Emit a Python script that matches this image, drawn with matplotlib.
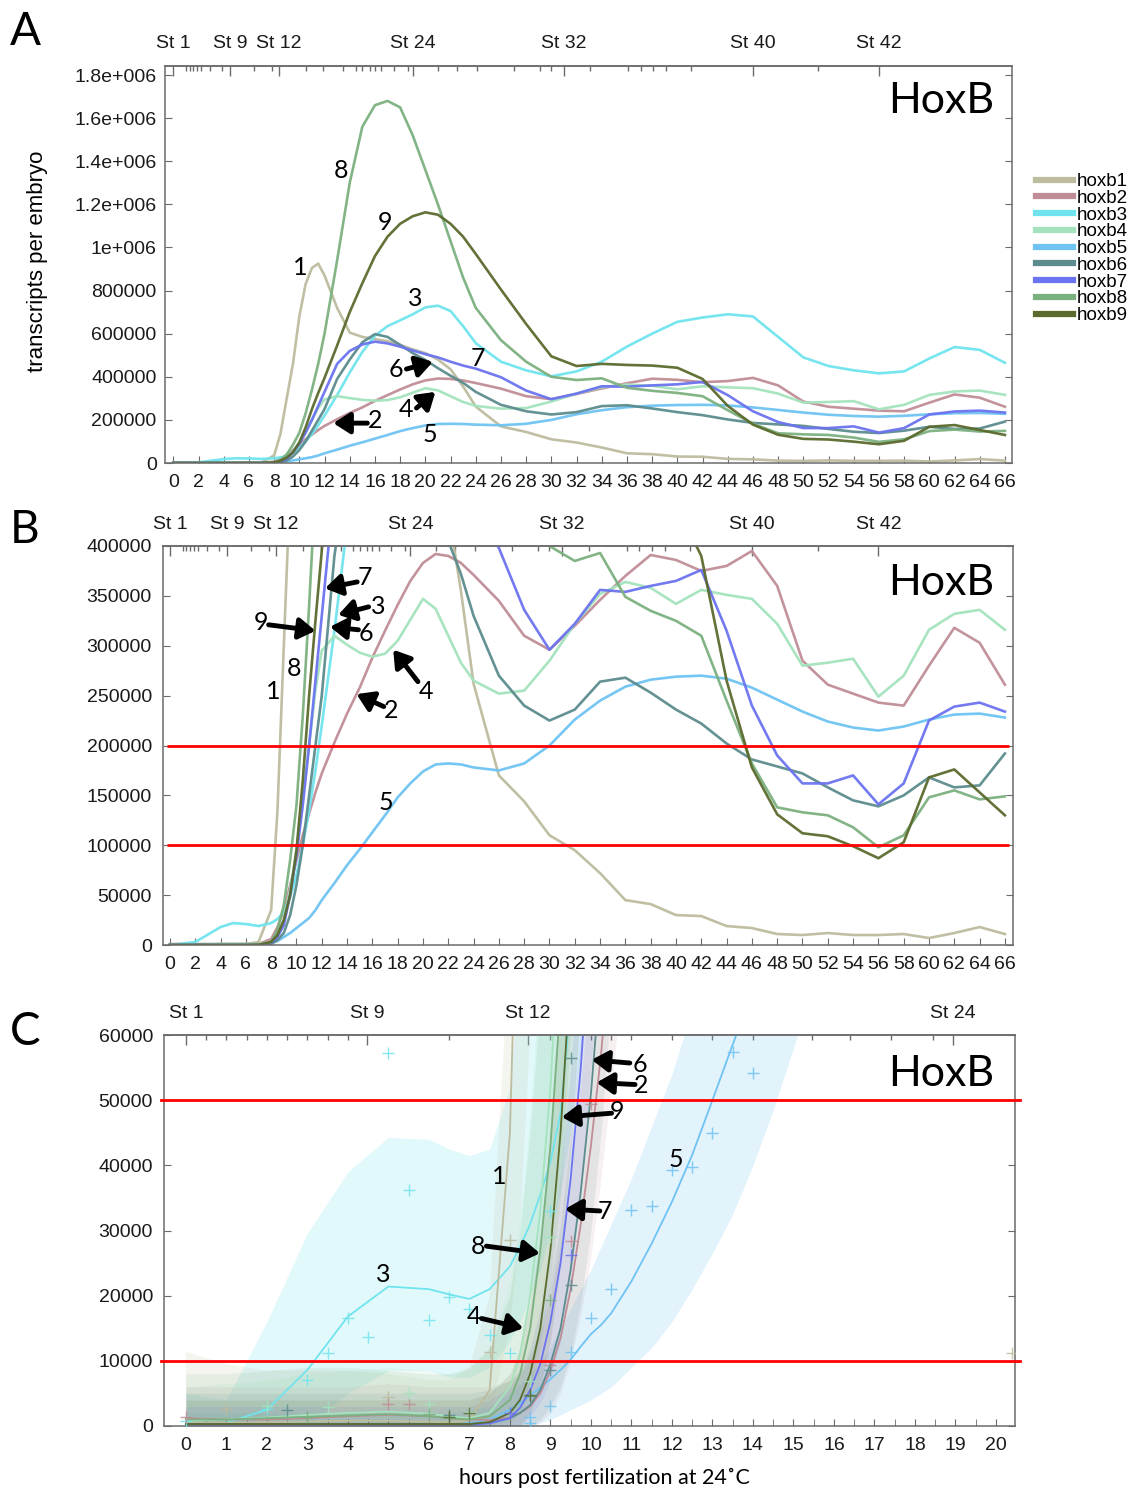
import numpy as np
import matplotlib
matplotlib.use("Agg")
import matplotlib.pyplot as plt
from matplotlib.lines import Line2D

plt.rcParams["font.family"] = ["Liberation Sans", "DejaVu Sans"]
CAL = ["Lato", "DejaVu Sans"]

genes = ["hoxb1", "hoxb2", "hoxb3", "hoxb4", "hoxb5",
         "hoxb6", "hoxb7", "hoxb8", "hoxb9"]
colors = ["#bdbc9e", "#c08d97", "#6fe4ee", "#a4e3bd", "#6ec3f3",
          "#5c8c8d", "#6b73f0", "#7bb07f", "#5b6a2d"]

# ---- panels A and B: hours post fertilization vs transcripts per embryo (x1000)
hours = [0, 2, 4, 5, 6, 7, 8, 8.5, 9, 9.5, 10, 10.5, 11, 11.5,
         12, 13, 14, 15, 16, 17, 18, 19, 20, 21, 22, 23, 24,
         26, 28, 30, 32, 34, 36, 38, 40, 42, 44, 46, 48, 50, 52, 54, 56, 58, 60, 62, 64, 66]
hoxb1 = [0, 0, 1, 1, 1, 3, 35, 135, 300, 462, 680, 830, 905, 925,
         870, 720, 605, 585, 575, 565, 548, 527, 510, 480, 435, 355, 262,
         170, 144, 110, 95, 72, 45, 41, 30, 29, 19, 17, 11, 10, 12, 10, 10, 11, 7, 12, 18, 11]
hoxb2 = [1, 1, 1, 1, 1, 1, 6, 18, 35, 60, 85, 110, 132, 153,
         172, 203, 232, 258, 288, 315, 341, 365, 383, 392, 390, 383, 371,
         345, 310, 296, 320, 346, 370, 391, 386, 375, 380, 395, 360, 285, 261, 252, 243, 240, 280, 318, 303, 261]
hoxb3 = [0, 3, 18, 22, 21, 19, 22, 26, 33, 48, 70, 100, 135, 175,
         220, 315, 420, 515, 590, 635, 662, 690, 722, 730, 705, 635, 556,
         470, 430, 402, 425, 470, 540, 600, 655, 675, 690, 680, 585, 490, 450, 430, 416, 425, 485, 538, 525, 465]
hoxb4 = [0, 0, 1, 1, 1, 1, 3, 10, 25, 55, 95, 148, 200, 255,
         295, 310, 301, 293, 289, 292, 305, 326, 347, 337, 310, 283, 265,
         252, 255, 285, 322, 352, 364, 358, 342, 356, 351, 347, 322, 280, 283, 287, 249, 270, 316, 332, 336, 316]
hoxb5 = [0, 0, 0, 0, 0, 0.3, 2, 4, 8, 12, 17, 22, 27, 35,
         45, 62, 80, 96, 113, 130, 148, 162, 174, 181, 182, 181, 178,
         175, 182, 200, 226, 245, 259, 266, 269, 270, 267, 258, 246, 234, 224, 218, 215, 219, 226, 231, 232, 228]
hoxb6 = [0, 0, 0, 0, 0, 0.2, 1, 5, 12, 30, 60, 100, 150, 200,
         250, 390, 480, 560, 598, 585, 548, 510, 478, 440, 405, 372, 330,
         270, 240, 225, 236, 264, 268, 253, 236, 222, 202, 186, 179, 172, 158, 145, 139, 150, 168, 158, 160, 192]
hoxb7 = [0, 0, 0, 0, 0, 0.2, 2, 8, 20, 50, 90, 140, 200, 265,
         330, 460, 520, 550, 563, 555, 540, 522, 505, 490, 470, 452, 438,
         398, 336, 296, 322, 356, 354, 360, 365, 376, 315, 240, 190, 162, 162, 170, 141, 162, 225, 239, 243, 234]
hoxb8 = [0, 0, 0, 0, 0, 0.3, 3, 15, 40, 85, 140, 230, 340, 460,
         600, 940, 1300, 1560, 1660, 1680, 1650, 1520, 1360, 1200, 1030, 860, 720,
         570, 470, 400, 385, 393, 349, 335, 325, 310, 245, 182, 138, 133, 130, 118, 98, 110, 148, 155, 146, 149]
hoxb9 = [0, 0, 0, 0, 0, 0.2, 3, 10, 25, 50, 95, 165, 250, 325,
         395, 545, 700, 834, 960, 1050, 1110, 1145, 1163, 1152, 1110, 1050, 970,
         805, 645, 495, 450, 460, 455, 452, 442, 390, 265, 178, 131, 112, 109, 99, 87, 103, 168, 176, 153, 130]
series_ab = [hoxb1, hoxb2, hoxb3, hoxb4, hoxb5, hoxb6, hoxb7, hoxb8, hoxb9]

# developmental stages on the top axis (hours)
stage_names = ["St 1", "St 9", "St 12", "St 24", "St 32", "St 40", "St 42"]
stage_hours = [0, 4.5, 8.4, 19.0, 31.0, 46.0, 56.0]
stage_minor = [1.0, 1.3, 1.6, 1.9, 2.2, 2.9, 3.9, 6.4, 7.8, 10.5, 11.9, 13.5, 14.5,
               15.0, 15.6, 16.0, 16.5, 17.5, 18.6, 21.0, 22.5, 24.1, 27.0, 29.1, 30.0,
               33.1, 36.1, 37.1, 38.1, 39.1, 41.1, 51.2]

a_yticks = [0, 200000, 400000, 600000, 800000, 1000000, 1200000, 1400000, 1600000, 1800000]
a_ylabels = ["0", "200000", "400000", "600000", "800000", "1e+006",
             "1.2e+006", "1.4e+006", "1.6e+006", "1.8e+006"]
b_yticks = [0, 50000, 100000, 150000, 200000, 250000, 300000, 350000, 400000]
b_thresholds = [200000, 100000]

# ---- panel C: early hours, fitted curve with confidence band (x1000)
c_hours = [0, 1, 2, 3, 4, 5, 6, 6.5, 7, 7.5, 8, 8.25, 8.5, 8.75, 9, 9.25, 9.5, 9.75,
           10, 10.25, 10.5, 11, 11.5, 12, 12.5, 13, 13.5, 14, 14.5, 15, 15.5]
c_b1 = [0.5, 0.5, 0.6, 0.7, 0.8, 0.8, 0.7, 0.6, 0.9, 5.5, 45, 100]
c_b1_lo = [0, 0, 0, 0, 0, 0, 0, 0, 0, 1, 15, 30, 60, 100]
c_b1_hi = [11.4, 9.5, 8.5, 8.5, 8.5, 8, 7, 7, 9, 20, 75, 150, 200, 250]
c_b2 = [1.2, 1.0, 1.0, 1.2, 1.5, 1.7, 1.5, 1.2, 1.0, 0.9, 1.3, 2.0, 3.0, 5.0, 8.5, 13.5, 21, 31, 43, 57, 75]
c_b2_lo = [0, 0, 0, 0, 0, 0, 0, 0, 0, 0, 0, 0, 0, 0.5, 2, 5, 10, 17, 26, 38, 52, 80]
c_b2_hi = [6, 6, 6, 6, 6, 6.5, 6, 6, 6, 6, 7, 8, 10, 14, 20, 28, 39, 52, 68, 90, 120, 160]
c_b3 = [0.3, 0.5, 2.5, 8.6, 16.8, 21.4, 21.0, 20.2, 19.5, 21.0, 24.5, 27.5, 31, 35.5, 40.5, 48, 65]
c_b3_lo = [0, 0, 0, 0, 5, 8.5, 8.5, 7.5, 7.5, 9, 13, 16, 20, 24, 30, 36, 45, 58, 75]
c_b3_hi = [5, 4, 16, 29.6, 39, 44.3, 44, 42.5, 41.5, 42.5, 52, 70, 90, 110, 130, 150, 170, 190, 210]
c_b4 = [0.8, 1.0, 1.3, 1.7, 2.0, 2.2, 1.9, 1.5, 1.2, 2.0, 6, 11, 20, 33, 52, 80]
c_b4_lo = [0, 0, 0, 0, 0, 0, 0, 0, 0, 0, 1, 3, 7, 14, 25, 40, 65, 100]
c_b4_hi = [6, 6.5, 7, 8, 8.5, 9, 8.5, 8, 8.5, 12, 22, 32, 48, 70, 100, 140, 180, 220]
c_b5 = [0.1, 0.1, 0.1, 0.1, 0.1, 0.1, 0.1, 0.2, 0.4, 1.0, 2.5, 3.5, 4.7, 5.9, 7.2, 8.6, 10.2, 12.2,
        14.1, 15.5, 17.3, 22.2, 28, 34.4, 41.6, 50, 58.5, 67]
c_b5_lo = [0, 0, 0, 0, 0, 0, 0, 0, 0, 0, 0, 0, 0, 0.5, 1, 1.7, 2.5, 3.2,
           4, 5, 6, 9, 12, 16, 21, 26.5, 32.5, 40, 48.5, 58, 68]
c_b5_hi = [2, 2, 2, 2, 2, 2, 2, 2, 2.5, 3, 5, 6.5, 8, 10, 12, 15, 18, 21,
           24, 27.5, 31, 38, 46, 54, 64, 74, 84, 94, 104, 114, 124]
c_b6 = [0.3, 0.3, 0.3, 0.3, 0.3, 0.3, 0.3, 0.3, 0.3, 0.5, 1.2, 2, 3.2, 5.5, 9.5, 15, 24, 36, 51, 70]
c_b6_lo = [0, 0, 0, 0, 0, 0, 0, 0, 0, 0, 0, 0, 0, 1, 3, 6, 11, 19, 30, 45, 65, 100]
c_b6_hi = [5, 5, 5, 5, 5, 5, 5, 5, 5, 5.5, 7, 8.5, 11, 15, 22, 31, 44, 60, 80, 100, 130, 170]
c_b7 = [0.2, 0.2, 0.2, 0.2, 0.2, 0.2, 0.2, 0.2, 0.2, 0.4, 1.2, 2.8, 5.5, 9.5, 16, 25, 38, 55, 78]
c_b7_lo = [0, 0, 0, 0, 0, 0, 0, 0, 0, 0, 0, 0, 1.5, 3.5, 7, 13, 22, 36, 55, 75, 100]
c_b7_hi = [3, 3, 3, 3, 3, 3, 3, 3, 3, 4, 6, 8, 12, 18, 27, 39, 55, 75, 100, 130, 160]
c_b8 = [1.0, 1.0, 1.2, 1.4, 1.6, 1.8, 1.5, 1.2, 1.0, 1.5, 4, 8, 15, 27, 43, 65]
c_b8_lo = [0, 0, 0, 0, 0, 0, 0, 0, 0, 0, 0.5, 2, 5, 12, 22, 35, 60, 90]
c_b8_hi = [8, 8, 8.5, 9, 9, 8.5, 8, 8, 9, 12, 20, 30, 45, 65, 90, 120, 150, 180]
c_b9 = [0.3, 0.3, 0.3, 0.3, 0.3, 0.3, 0.3, 0.3, 0.3, 0.6, 2, 4, 8, 15, 27, 45, 70]
c_b9_lo = [0, 0, 0, 0, 0, 0, 0, 0, 0, 0, 0, 0, 2, 6, 13, 25, 42, 65, 90]
c_b9_hi = [4, 4, 4, 4, 4, 4, 4, 4, 4, 5, 8, 12, 19, 29, 45, 65, 90, 120, 150]

# replicate measurements (hours, transcripts x1000)
c_pts_b1 = [(1.0, 2.6), (5.0, 4.5), (7.5, 11.4), (8.0, 28.5), (20.4, 11.2)]
c_pts_b2 = [(0.0, 1.4), (5.0, 3.4), (5.5, 3.4), (9.0, 9.4), (9.5, 28.4), (10.0, 49.4)]
c_pts_b3 = [(0.0, 0.7), (2.0, 2.6), (3.0, 7.0), (3.5, 11.2), (4.0, 16.5), (4.5, 13.6), (5.0, 57.3),
            (5.5, 36.2), (6.0, 16.2), (6.5, 19.8), (7.0, 18.0), (7.5, 14.0), (8.0, 11.2), (9.0, 33.0)]
c_pts_b4 = [(2.0, 3.0), (3.5, 2.9), (5.5, 5.1), (6.0, 3.4), (7.0, 2.2), (8.5, 6.9), (9.0, 29.0)]
c_pts_b5 = [(8.5, 1.4), (8.5, 0.5), (9.0, 3.1), (9.5, 11.4), (10.0, 16.6), (10.5, 21.0), (11.0, 33.1),
            (11.5, 33.8), (12.0, 39.3), (12.5, 39.8), (13.0, 45.0), (13.5, 57.4), (14.0, 54.2)]
c_pts_b6 = [(2.5, 2.5), (6.5, 1.7), (8.5, 4.6), (9.0, 8.6), (9.5, 21.6), (9.5, 56.5)]
c_pts_b7 = [(8.0, 2.0), (9.5, 26.2)]
c_pts_b8 = [(3.0, 1.4), (6.0, 1.9), (9.0, 19.4)]
c_pts_b9 = [(6.5, 1.4), (7.0, 2.0), (8.5, 4.8)]

c_stage_names = ["St 1", "St 9", "St 12", "St 24"]
c_stage_hours = [0, 4.47, 8.44, 18.94]
c_stage_minor = [0.5, 1, 1.5, 2, 2.5, 3, 3.5, 4, 6.5, 9, 10, 10.5, 11, 12, 13, 14,
                 15.45, 16.4, 17.4, 18.45]
c_yticks = [0, 10000, 20000, 30000, 40000, 50000, 60000]
c_thresholds = [50000, 10000]


def pad(vals):
    return np.array(vals + [None] * (len(c_hours) - len(vals)), dtype=float) * 1000


FRAME = "#6b6b6b"


def frame(ax, ypad):
    for sp in ax.spines.values():
        sp.set_color(FRAME)
        sp.set_linewidth(1.1)
    ax.tick_params(which="both", direction="in", colors=FRAME, labelcolor="#1a1a1a",
                   labelsize=14, right=True, top=False)
    ax.tick_params(axis="x", which="major", length=5, pad=8)
    ax.tick_params(axis="y", which="major", length=5, pad=ypad)


def stage_axis(ax, names, major, minor, pad):
    sec = ax.secondary_xaxis("top")
    sec.set_xticks(major, labels=names)
    sec.set_xticks(minor, minor=True)
    sec.tick_params(which="major", direction="in", length=7, width=1, pad=pad,
                    labelsize=14, colors=FRAME, labelcolor="#1a1a1a")
    sec.tick_params(which="minor", direction="in", length=3.5, width=1, colors=FRAME)
    sec.spines["top"].set_color(FRAME)
    sec.spines["top"].set_linewidth(1.1)
    return sec


def num(ax, txt, x, y):
    ax.text(x, y, txt, fontsize=18, family=CAL, ha="center", va="center", zorder=10)


def arrow(ax, tail, head):
    ax.annotate("", xy=head, xytext=tail, zorder=10,
                arrowprops=dict(arrowstyle="-|>,head_length=0.7,head_width=0.45",
                                lw=3.5, color="black", mutation_scale=14,
                                shrinkA=0, shrinkB=0))


fig = plt.figure(figsize=(11.31, 14.91), dpi=100)
W, H = 1131.0, 1491.0

# ---------------- panel A ----------------
axA = fig.add_axes([165 / W, 1 - 463 / H, 847 / W, 397 / H])
h = np.array(hours)
for vals, col in zip(series_ab, colors):
    axA.plot(h, np.array(vals) * 1000, color=col, lw=1.9, alpha=0.95, solid_joinstyle="round")
axA.set_xlim(-0.66, 66.56)
axA.set_ylim(0, 1.842e6)
axA.set_xticks(np.arange(0, 67, 2))
axA.set_yticks(a_yticks, labels=a_ylabels)
frame(axA, 6)
stage_axis(axA, stage_names, stage_hours, stage_minor, 10)
axA.text(0.916, 0.912, "HoxB", transform=axA.transAxes, fontsize=31, family=CAL,
         ha="center", va="center")
num(axA, "8", 13.3, 1.359e6)
num(axA, "9", 16.8, 1.118e6)
num(axA, "1", 10.1, 0.905e6)
num(axA, "3", 19.2, 0.765e6)
num(axA, "7", 24.2, 0.487e6)
num(axA, "6", 17.7, 0.436e6)
arrow(axA, (18.5, 0.436e6), (20.6, 0.469e6))
num(axA, "4", 18.5, 0.246e6)
arrow(axA, (19.3, 0.255e6), (20.8, 0.330e6))
num(axA, "2", 16.0, 0.198e6)
arrow(axA, (15.4, 0.185e6), (12.7, 0.185e6))
num(axA, "5", 20.4, 0.130e6)

handles = [Line2D([], [], color=c, lw=4.5) for c in colors]
fig.legend(handles, genes, loc="upper left", bbox_to_anchor=(1036 / W, 1 - 173 / H),
           frameon=False, fontsize=13.5, handlelength=1.95, handletextpad=0.2,
           labelspacing=-0.02, borderpad=0, borderaxespad=0)

fig.text(38 / W, 1 - 261 / H, "transcripts per embryo", rotation=90, fontsize=16,
         ha="center", va="center")

# ---------------- panel B ----------------
axB = fig.add_axes([163 / W, 1 - 945 / H, 850 / W, 399 / H])
for vals, col in zip(series_ab, colors):
    axB.plot(h, np.array(vals) * 1000, color=col, lw=1.9, alpha=0.95, solid_joinstyle="round")
for t in b_thresholds:
    axB.hlines(t, -0.2, 66.3, color="#ff0000", lw=2, zorder=5)
axB.set_xlim(-0.55, 66.64)
axB.set_ylim(0, 400000)
axB.set_xticks(np.arange(0, 67, 2))
axB.set_yticks(b_yticks)
frame(axB, 8)
stage_axis(axB, stage_names, stage_hours, stage_minor, 9.5)
axB.text(0.915, 0.907, "HoxB", transform=axB.transAxes, fontsize=31, family=CAL,
         ha="center", va="center")
num(axB, "7", 15.4, 368000)
arrow(axB, (14.8, 364000), (12.25, 357500))
num(axB, "3", 16.5, 339000)
arrow(axB, (15.7, 339000), (13.3, 331000))
num(axB, "9", 7.2, 323500)
arrow(axB, (7.8, 321000), (11.5, 315000))
num(axB, "6", 15.5, 312500)
arrow(axB, (14.9, 316000), (12.65, 319000))
num(axB, "8", 9.8, 277000)
num(axB, "1", 8.2, 254000)
num(axB, "4", 20.2, 254000)
arrow(axB, (19.6, 264000), (17.65, 296000))
num(axB, "2", 17.5, 235500)
arrow(axB, (16.9, 239000), (14.75, 251500))
num(axB, "5", 17.1, 142700)

# ---------------- panel C ----------------
axC = fig.add_axes([164 / W, 1 - 1426 / H, 851 / W, 391 / H])
ch = np.array(c_hours)
c_mean = [c_b1, c_b2, c_b3, c_b4, c_b5, c_b6, c_b7, c_b8, c_b9]
c_lo = [c_b1_lo, c_b2_lo, c_b3_lo, c_b4_lo, c_b5_lo, c_b6_lo, c_b7_lo, c_b8_lo, c_b9_lo]
c_hi = [c_b1_hi, c_b2_hi, c_b3_hi, c_b4_hi, c_b5_hi, c_b6_hi, c_b7_hi, c_b8_hi, c_b9_hi]
c_pts = [c_pts_b1, c_pts_b2, c_pts_b3, c_pts_b4, c_pts_b5, c_pts_b6, c_pts_b7, c_pts_b8, c_pts_b9]
band_order = [4, 2, 0, 1, 3, 5, 6, 7, 8]
band_alpha = [0.15, 0.13, 0.2, 0.15, 0.2, 0.12, 0.12, 0.13, 0.12]
for i in band_order:
    axC.fill_between(ch, pad(c_lo[i]), pad(c_hi[i]), color=colors[i], alpha=band_alpha[i],
                     lw=0, zorder=1)
for i in band_order:
    axC.plot(ch, pad(c_mean[i]), color=colors[i], lw=1.3, zorder=2)
for i in band_order:
    px, py = zip(*c_pts[i])
    axC.plot(px, np.array(py) * 1000, "+", color=colors[i], ms=8, mew=1.0, alpha=0.85,
             zorder=3)
for t in c_thresholds:
    axC.axhline(t, xmin=-0.003, xmax=1.006, color="#ff0000", lw=2, zorder=5, clip_on=False)
axC.set_xlim(-0.54, 20.47)
axC.set_ylim(0, 60000)
axC.set_xticks(np.arange(0, 21, 1))
axC.set_xticks(np.arange(0.5, 20, 1), minor=True)
axC.set_yticks(c_yticks)
frame(axC, 8)
axC.tick_params(axis="x", which="minor", length=5)
stage_axis(axC, c_stage_names, c_stage_hours, c_stage_minor, 9.5)
axC.text(0.913, 0.900, "HoxB", transform=axC.transAxes, fontsize=31, family=CAL,
         ha="center", va="center")
num(axC, "3", 4.86, 23200)
num(axC, "1", 7.74, 38300)
num(axC, "8", 7.22, 27500)
arrow(axC, (7.42, 27600), (8.74, 26500))
num(axC, "4", 7.11, 16800)
arrow(axC, (7.3, 16500), (8.33, 15000))
num(axC, "6", 11.2, 55400)
arrow(axC, (10.96, 55700), (10.02, 56200))
num(axC, "2", 11.25, 52300)
arrow(axC, (11.09, 52400), (10.14, 52700))
num(axC, "9", 10.65, 48200)
arrow(axC, (10.51, 48000), (9.28, 47400))
num(axC, "7", 10.35, 32900)
arrow(axC, (10.22, 33000), (9.36, 33300))
num(axC, "5", 12.1, 40900)

fig.text(604 / W, 1 - 1478 / H, "hours post fertilization at 24\u02daC", fontsize=15.5,
         family=CAL, ha="center", va="center")

for letter, y in (("A", 32), ("B", 530), ("C", 1032)):
    fig.text(25 / W, 1 - y / H, letter, fontsize=33, family=CAL, ha="center", va="center")

fig.savefig("out.png", dpi=100)
